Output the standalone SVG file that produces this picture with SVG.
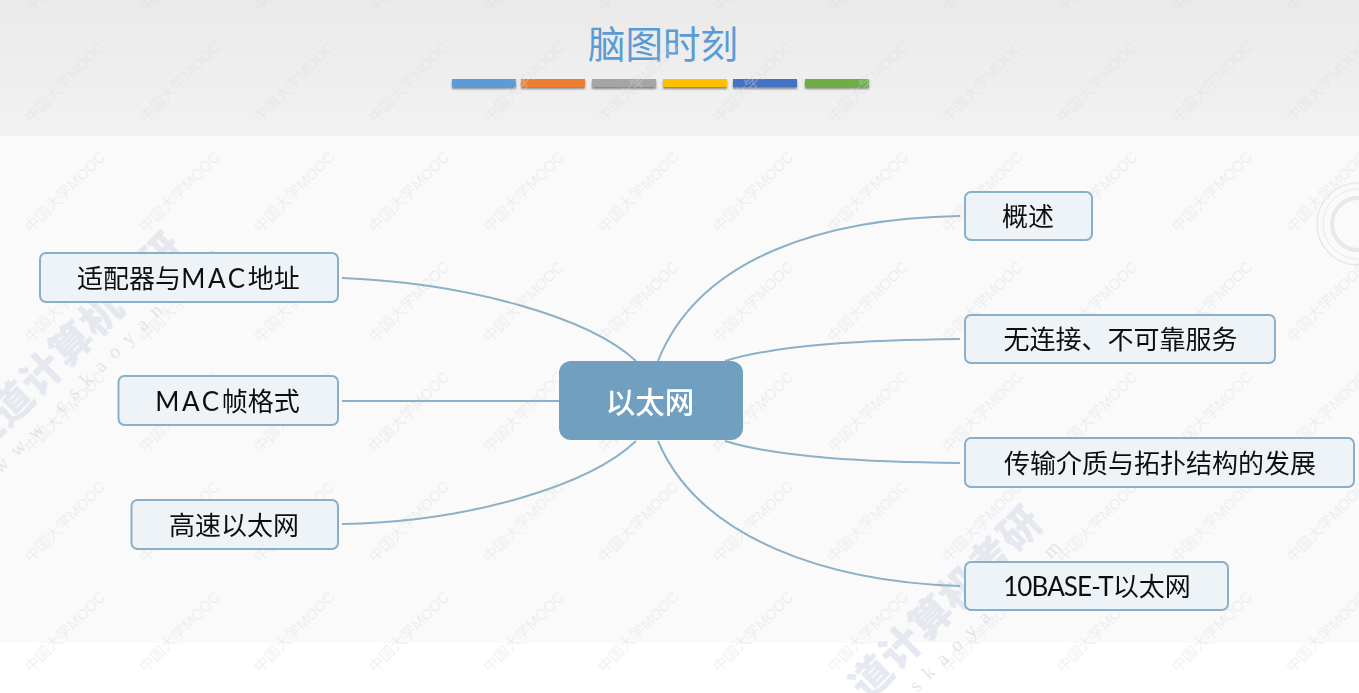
<svg xmlns="http://www.w3.org/2000/svg" width="1359" height="693" viewBox="0 0 1359 693">
  <style>
    .cn { font-family: "Lato", "Noto Sans CJK SC", sans-serif; }
    .box { fill: #eef3f7; stroke: #8aafc8; stroke-width: 2; }
    .lbl { font-size: 26px; fill: #111111; text-anchor: middle; }
    .edge { fill: none; stroke: #8bb0c8; stroke-width: 2; }
    .wm { font-family: "Liberation Sans", "Noto Sans CJK SC", sans-serif; font-size: 15px; fill: #d9dce3; fill-opacity: .42; text-anchor: middle; }
    .big { font-family: "Noto Sans CJK SC", sans-serif; font-weight: 900; font-size: 41px; fill: #dde1ec; fill-opacity: .72; letter-spacing: 1px; }
    .url { font-family: "Liberation Serif", serif; font-size: 20px; fill: #d3d7e0; fill-opacity: .62; letter-spacing: 10px; }
  </style>
  <defs>
    <linearGradient id="hdr" x1="0" y1="0" x2="0" y2="1">
      <stop offset="0" stop-color="#eaeaea"/>
      <stop offset="1" stop-color="#f2f2f2"/>
    </linearGradient>
    <filter id="shadow" x="-10%" y="-50%" width="120%" height="220%">
      <feDropShadow dx="0" dy="2" stdDeviation="1.2" flood-color="#000" flood-opacity=".45"/>
    </filter>
    <filter id="soft" x="-5%" y="-5%" width="110%" height="110%">
      <feGaussianBlur stdDeviation="0.4"/>
    </filter>
    <pattern id="mooc" patternUnits="userSpaceOnUse" x="8" y="27" width="114.7" height="110">
      <text class="wm" transform="translate(57 55) rotate(-45)" y="5">中国大学MOOC</text>
    </pattern>
  </defs>

  <rect width="1359" height="693" fill="#ffffff"/>
  <rect width="1359" height="136" fill="url(#hdr)"/>
  <rect y="136" width="1359" height="507" fill="#fafafa"/>

  <g id="seal" fill="none" stroke="#e6e8ee">
    <circle cx="1358" cy="224" r="41" stroke-width="1.500"/>
    <circle cx="1358" cy="224" r="35" stroke-width="1"/>
    <circle cx="1358" cy="224" r="26" stroke-width="4"/>
  </g>

  <g id="title">
    <text x="663" y="58" font-family="Noto Sans CJK SC, sans-serif" font-size="37.500" font-weight="400" fill="#5b9bd5" text-anchor="middle">脑图时刻</text>
    <g filter="url(#shadow)">
      <rect x="452" y="79" width="64" height="8" fill="#5b9bd5"/>
      <rect x="521" y="79" width="64" height="8" fill="#ed7d31"/>
      <rect x="592" y="79" width="64" height="8" fill="#a5a5a5"/>
      <rect x="663" y="79" width="64" height="8" fill="#ffc000"/>
      <rect x="733" y="79" width="64" height="8" fill="#4472c4"/>
      <rect x="805" y="79" width="64" height="8" fill="#70ad47"/>
    </g>
  </g>

  <g id="watermarks">
    <rect width="1359" height="693" fill="url(#mooc)"/>
    <text class="big" transform="translate(-22 458) rotate(-45)">王道计算机考研</text>
    <text class="url" transform="translate(0 475) rotate(-45)">www.cskaoyan.com</text>
    <text class="big" transform="translate(867 702) rotate(-45)">道计算机考研</text>
    <text class="url" transform="translate(842 768) rotate(-45)">www.cskaoyan.com</text>
  </g>

  <g id="connectors" filter="url(#soft)">
    <path class="edge" d="M342 278C470 283 590 318 636 361"/>
    <path class="edge" d="M342 401H559"/>
    <path class="edge" d="M342 524C470 522 590 485 636 441"/>
    <path class="edge" d="M960 216C830 218 700 255 658 361"/>
    <path class="edge" d="M960 339C870 340 780 344 725 361"/>
    <path class="edge" d="M960 463C870 462 780 458 725 441"/>
    <path class="edge" d="M960 586C830 582 700 540 658 441"/>
  </g>

  <g id="center" filter="url(#soft)">
    <rect x="559" y="361" width="184" height="79" rx="12" fill="#709fc0"/>
    <text class="cn" x="650" y="412.500" font-size="29.500" font-weight="500" fill="#ffffff" text-anchor="middle">以太网</text>
  </g>
  <g id="n1" class="cn" filter="url(#soft)"><rect class="box" x="40" y="253" width="298" height="49" rx="6"/><text class="lbl" x="188.500" y="287.500">适配器与<tspan letter-spacing="2.700">MAC</tspan>地址</text></g>
  <g id="n2" class="cn" filter="url(#soft)"><rect class="box" x="118.500" y="376" width="219.500" height="49" rx="6"/><text class="lbl" x="227.500" y="410.500"><tspan letter-spacing="2.700">MAC</tspan>帧格式</text></g>
  <g id="n3" class="cn" filter="url(#soft)"><rect class="box" x="131.500" y="500" width="206.500" height="49" rx="6"/><text class="lbl" x="234" y="534.500">高速以太网</text></g>
  <g id="n4" class="cn" filter="url(#soft)"><rect class="box" x="965" y="192" width="127" height="48" rx="6"/><text class="lbl" x="1028" y="226">概述</text></g>
  <g id="n5" class="cn" filter="url(#soft)"><rect class="box" x="965" y="315" width="310" height="48" rx="6"/><text class="lbl" x="1120.500" y="349">无连接、不可靠服务</text></g>
  <g id="n6" class="cn" filter="url(#soft)"><rect class="box" x="965" y="438" width="389" height="49" rx="6"/><text class="lbl" x="1160" y="472.500">传输介质与拓扑结构的发展</text></g>
  <g id="n7" class="cn" filter="url(#soft)"><rect class="box" x="965" y="562" width="263" height="48" rx="6"/><text class="lbl" x="1097" y="596"><tspan letter-spacing="-0.900">10BASE-T</tspan>以太网</text></g>
</svg>
